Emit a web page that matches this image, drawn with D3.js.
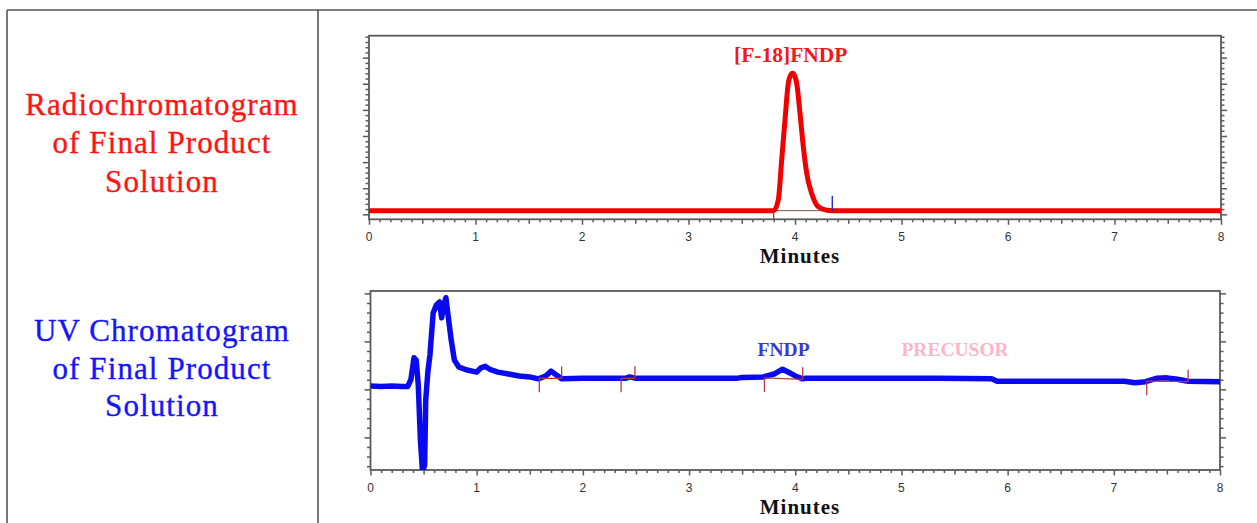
<!DOCTYPE html>
<html>
<head>
<meta charset="utf-8">
<script src="https://cdn.jsdelivr.net/npm/d3@7"></script>
<style>
  html, body { margin: 0; padding: 0; background: #fff; }
  svg { display: block; }
</style>
</head>
<body>
<svg id="chart" width="1257" height="523"></svg>
<script>
// ---------------- DATA ----------------
const X_TICKS = [0, 1, 2, 3, 4, 5, 6, 7, 8];
const X_TICK_LABELS = ["0", "1", "2", "3", "4", "5", "6", "7", "8"];

const leftTitleTop = ["Radiochromatogram", "of Final Product", "Solution"];
const leftTitleBottom = ["UV Chromatogram", "of Final Product", "Solution"];

// Radio trace: [minutes, counts]
const radioTime = [0, 3.80, 3.843, 3.875, 3.906, 3.937, 3.958, 3.978, 3.997, 4.016, 4.047, 4.078, 4.11, 4.157, 4.219, 4.30, 4.40, 8];
const radioValue = [14, 14, 55, 208, 361, 502, 532, 540, 530, 502, 387, 259, 157, 80, 29, 16, 14, 14];

// Radio integration window
const radioIntStart = 3.80, radioIntEnd = 4.35;

// UV trace: [minutes, mAU]
const uvTime = [0, 0.10, 0.20, 0.30, 0.35, 0.38, 0.41, 0.43, 0.45, 0.47, 0.49, 0.51, 0.52, 0.54, 0.56, 0.59, 0.62, 0.65, 0.67, 0.69, 0.71, 0.73, 0.76, 0.79, 0.83, 0.90, 1.00, 1.04, 1.08, 1.13, 1.20, 1.30, 1.40, 1.50, 1.58, 1.65, 1.70, 1.75, 1.80, 2.00, 2.40, 2.44, 2.50, 3.00, 3.45, 3.50, 3.70, 3.80, 3.88, 3.95, 4.00, 4.07, 4.10, 5.00, 5.35, 5.85, 5.90, 6.50, 7.10, 7.20, 7.30, 7.40, 7.50, 7.60, 7.70, 8.00];
const uvValue = [7, 6, 7, 6, 6, 20, 66, 61, 9, -105, -172, -157, -22, 36, 72, 159, 176, 182, 149, 176, 191, 155, 103, 61, 47, 41, 36, 45, 48, 41, 36, 32, 28, 26, 22, 28, 38, 30, 22, 23, 23, 26, 23, 23, 23, 25, 26, 32, 42, 34, 28, 22, 23, 23, 23, 22, 17, 17, 17, 14, 16, 23, 24, 21, 17, 16];

// UV integration windows (start/end minutes, baseline values at start/end)
const uvIntStart = [1.59, 2.36, 3.71, 7.31];
const uvIntEnd = [1.80, 2.49, 4.07, 7.70];
const uvIntBaseStart = [23, 23, 24, 17];
const uvIntBaseEnd = [23, 23, 21, 16];

// Peak labels
const radioPeakLabel = { text: "[F-18]FNDP", t: 3.96 };
const uvPeakLabels = [
  { text: "FNDP", t: 3.89, anchor: "middle", color: "#3a3ad2" },
  { text: "PRECUSOR", t: 5.0, anchor: "start", color: "#ffb3c8" }
];

// ---------------- DRAWING ----------------
const svg = d3.select("#chart");
const frameColor = "#5a5a5a";

// Outer table lines
svg.append("line").attr("x1", 7).attr("x2", 1257).attr("y1", 10).attr("y2", 10)
  .attr("stroke", "#555").attr("stroke-width", 1.6);
svg.append("line").attr("x1", 7).attr("x2", 7).attr("y1", 10).attr("y2", 523)
  .attr("stroke", "#555").attr("stroke-width", 1.6);
svg.append("line").attr("x1", 318).attr("x2", 318).attr("y1", 10).attr("y2", 523)
  .attr("stroke", "#555").attr("stroke-width", 1.6);

// Left titles
function leftTitle(lines, baselines, color) {
  svg.append("g").selectAll("text").data(lines).join("text")
    .attr("x", 162).attr("y", (d, i) => baselines[i])
    .attr("text-anchor", "middle")
    .attr("font-family", "'Liberation Serif', serif")
    .attr("font-size", 31)
    .attr("letter-spacing", 1.1)
    .attr("fill", color)
    .attr("stroke", color).attr("stroke-width", 0.35)
    .text(d => d);
}
leftTitle(leftTitleTop, [115, 153, 191.5], "#ff1414");
leftTitle(leftTitleBottom, [341, 378.5, 416], "#1414ff");

function drawPanel(cfg) {
  const x = d3.scaleLinear().domain([0, 8]).range([cfg.left, cfg.right]);
  const y = d3.scaleLinear().domain(cfg.yDomain).range([cfg.bottom, cfg.top]);
  const g = svg.append("g");

  const clipId = "clip" + cfg.id;
  svg.append("defs").append("clipPath").attr("id", clipId)
    .append("rect").attr("x", cfg.left).attr("y", cfg.top)
    .attr("width", cfg.right - cfg.left).attr("height", cfg.bottom - cfg.top);

  // x axis minor / mid / major ticks
  const minor = d3.range(0, 81, 1).filter(d => d % 5 !== 0).map(d => d / 10);
  const mid = d3.range(0.5, 8, 1);
  const axB = (vals, size) => g.append("g").attr("transform", `translate(0,${cfg.bottom})`)
    .call(d3.axisBottom(x).tickValues(vals).tickSize(size).tickFormat(""))
    .call(a => a.select(".domain").remove())
    .call(a => a.selectAll("line").attr("stroke", frameColor).attr("stroke-width", 1.5));
  axB(minor, 3);
  axB(mid, 4.5);
  axB(X_TICKS, 5.5);

  // x tick labels
  g.append("g").selectAll("text").data(X_TICKS).join("text")
    .attr("x", d => x(d)).attr("y", cfg.bottom + 22)
    .attr("text-anchor", "middle")
    .attr("font-family", "'Liberation Sans', Arial, sans-serif")
    .attr("font-size", 12)
    .attr("fill", "#333")
    .text((d, i) => X_TICK_LABELS[i]);

  // y ticks (left and right, no labels)
  const [y0, y1] = cfg.yDomain;
  const yMajor = d3.range(Math.ceil(y0 / 100) * 100, y1 + 0.1, 100);
  const yMinor = d3.range(Math.ceil(y0 / 20) * 20, y1 + 0.1, 20).filter(d => d % 100 !== 0);
  const axY = (fn, xpos, vals, size) => g.append("g").attr("transform", `translate(${xpos},0)`)
    .call(fn(y).tickValues(vals).tickSize(size).tickFormat(""))
    .call(a => a.select(".domain").remove())
    .call(a => a.selectAll("line").attr("stroke", frameColor).attr("stroke-width", 1.5));
  axY(d3.axisLeft, cfg.left, yMinor, 3.5);
  axY(d3.axisLeft, cfg.left, yMajor, 6);
  axY(d3.axisRight, cfg.right, yMinor, 3.5);
  axY(d3.axisRight, cfg.right, yMajor, 6);

  // frame
  g.append("rect").attr("x", cfg.left).attr("y", cfg.top)
    .attr("width", cfg.right - cfg.left).attr("height", cfg.bottom - cfg.top)
    .attr("fill", "none").attr("stroke", frameColor).attr("stroke-width", 1.8);

  // Minutes label
  g.append("text").attr("x", 800).attr("y", cfg.bottom + 44)
    .attr("text-anchor", "middle")
    .attr("font-family", "'Liberation Serif', serif")
    .attr("font-weight", "bold")
    .attr("font-size", 21)
    .attr("letter-spacing", 1)
    .attr("fill", "#111")
    .text("Minutes");

  return { x, y, g, clipId };
}

// ---- Top panel (radio) ----
const topPanel = drawPanel({ id: "top", left: 369, right: 1221, top: 35.7, bottom: 219.3, yDomain: [-19, 684] });
{
  const { x, y, g, clipId } = topPanel;
  const data = radioTime.map((t, i) => [t, radioValue[i]]);
  const line = d3.line().x(d => x(d[0])).y(d => y(d[1])).curve(d3.curveMonotoneX);
  g.append("line").attr("x1", x(radioIntStart)).attr("x2", x(radioIntEnd))
    .attr("y1", y(14)).attr("y2", y(14)).attr("stroke", "#8a4a4a").attr("stroke-width", 1);
  g.append("path").datum(data).attr("d", line)
    .attr("clip-path", `url(#${clipId})`)
    .attr("fill", "none").attr("stroke", "#f20000").attr("stroke-width", 5)
    .attr("stroke-linejoin", "round");
  g.append("line").attr("x1", x(radioIntStart)).attr("x2", x(radioIntStart))
    .attr("y1", y(14)).attr("y2", y(14) + 9).attr("stroke", "#6a4040").attr("stroke-width", 1.2);
  g.append("line").attr("x1", x(radioIntEnd)).attr("x2", x(radioIntEnd))
    .attr("y1", y(14) - 15).attr("y2", y(14)).attr("stroke", "#2a2ad0").attr("stroke-width", 1.4);
  g.append("text").attr("x", x(radioPeakLabel.t)).attr("y", 62)
    .attr("text-anchor", "middle")
    .attr("font-family", "'Liberation Serif', serif")
    .attr("font-weight", "bold").attr("font-size", 21.5)
    .attr("fill", "#f01818")
    .text(radioPeakLabel.text);
}

// ---- Bottom panel (UV) ----
const botPanel = drawPanel({ id: "bot", left: 370.5, right: 1220, top: 291, bottom: 470, yDomain: [-168, 205] });
{
  const { x, y, g, clipId } = botPanel;
  const data = uvTime.map((t, i) => [t, uvValue[i]]);
  const line = d3.line().x(d => x(d[0])).y(d => y(d[1]));
  g.append("path").datum(data).attr("d", line)
    .attr("clip-path", `url(#${clipId})`)
    .attr("fill", "none").attr("stroke", "#0a0af0").attr("stroke-width", 5.5)
    .attr("stroke-linejoin", "round");
  const ic = "#b83a3a";
  uvIntStart.forEach((s, i) => {
    const e = uvIntEnd[i];
    g.append("line").attr("x1", x(s)).attr("x2", x(e))
      .attr("y1", y(uvIntBaseStart[i])).attr("y2", y(uvIntBaseEnd[i]))
      .attr("stroke", ic).attr("stroke-width", 1.3);
    g.append("line").attr("x1", x(s)).attr("x2", x(s))
      .attr("y1", y(uvIntBaseStart[i])).attr("y2", y(uvIntBaseStart[i]) + 14)
      .attr("stroke", ic).attr("stroke-width", 1.3);
    g.append("line").attr("x1", x(e)).attr("x2", x(e))
      .attr("y1", y(uvIntBaseEnd[i]) - 12).attr("y2", y(uvIntBaseEnd[i]))
      .attr("stroke", ic).attr("stroke-width", 1.3);
  });
  g.selectAll("text.pk").data(uvPeakLabels).join("text").attr("class", "pk")
    .attr("x", d => x(d.t)).attr("y", 355.5)
    .attr("text-anchor", d => d.anchor)
    .attr("font-family", "'Liberation Serif', serif")
    .attr("font-weight", "bold").attr("font-size", 19.5)
    .attr("fill", d => d.color)
    .text(d => d.text);
}
</script>
</body>
</html>
